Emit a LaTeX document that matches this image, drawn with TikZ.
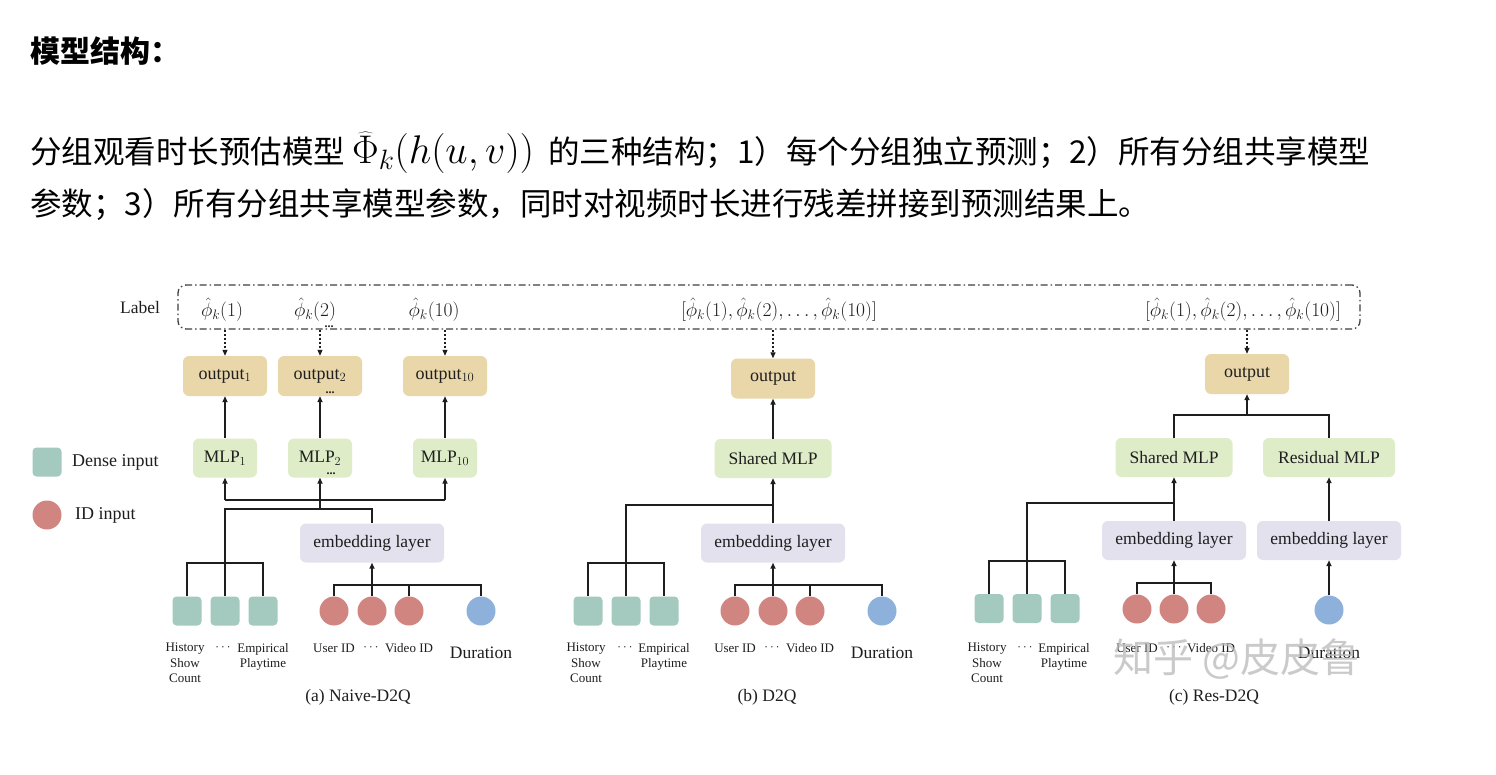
\RequirePackage{fix-cm}
\documentclass[tikz,border=0pt]{standalone}
\usepackage{fontspec}
\setmainfont{Liberation Serif}
\newfontfamily\cjk{Noto Sans CJK SC}
\usetikzlibrary{arrows.meta}
\definecolor{tanc}{RGB}{233,215,170}
\definecolor{grnc}{RGB}{222,236,200}
\definecolor{lavc}{RGB}{228,225,238}
\definecolor{tealc}{RGB}{164,202,192}
\definecolor{redc}{RGB}{209,133,128}
\definecolor{bluec}{RGB}{141,177,219}
\definecolor{ink}{RGB}{30,30,30}
\newcommand\myfs[1]{\fontsize{#1}{#1}\selectfont}
\begin{document}
\begin{tikzpicture}[x=1pt,y=-1pt,
  box/.style={rounded corners=6pt, inner sep=0pt, text=ink},
  outbox/.style={box, fill=tanc, minimum width=84pt, minimum height=40pt, font=\myfs{18}},
  mlpbox/.style={box, fill=grnc, minimum height=39pt, font=\myfs{17.5}},
  embbox/.style={box, fill=lavc, minimum width=144pt, minimum height=39pt, font=\myfs{17.5}},
  dense/.style={fill=tealc, rounded corners=4pt, minimum size=29pt, inner sep=0pt},
  idc/.style={circle, fill=redc, minimum size=29pt, inner sep=0pt},
  durc/.style={circle, fill=bluec, minimum size=29pt, inner sep=0pt},
  conn/.style={draw=ink, line width=1.5pt},
  arr/.style={conn, -{Triangle[length=6pt,width=5pt]}},
  darr/.style={draw=ink, line width=1.1pt, dash pattern=on 2.5pt off 1.5pt, -{Triangle[length=6pt,width=5pt]}},
  small/.style={font=\fontsize{13}{15.5}\selectfont, text=ink, inner sep=0pt, align=center},
  big/.style={font=\myfs{17.5}, text=ink, inner sep=0pt},
  phi/.style={font=\myfs{19.5}, text=ink, inner sep=0pt},
  dots/.style={font=\bfseries\myfs{12}, text=ink, inner sep=0pt}
]
\useasboundingbox (0,0) rectangle (1496,774);
\fill[white] (0,0) rectangle (1496,774);

% header text
\node[anchor=base west, inner sep=0pt, font=\cjk\bfseries\myfs{30}, text=black] (title) at (30,62) {模型结构：};
\node[anchor=base west, inner sep=0pt, font=\cjk\myfs{31.5}, text=black] (line2) at (30,163) {分组观看时长预估模型\hspace{7pt}{\myfs{40}$\widehat{\Phi}_k(h(u,v))$}\hspace{14pt}的三种结构；1）每个分组独立预测；2）所有分组共享模型};
\node[anchor=base west, inner sep=0pt, font=\cjk\myfs{31.5}, text=black] (line3) at (30,215) {参数；3）所有分组共享模型参数，同时对视频时长进行残差拼接到预测结果上。};

% label row
\node[big] (labtxt) at (140,308) {Label};
\node[draw=black!75, line width=1.3pt, dash pattern=on 7pt off 3pt on 1.5pt off 3pt, rounded corners=8pt, minimum width=1182pt, minimum height=44pt, inner sep=0pt] (lbl) at (769,307) {};
\node[phi] (p1) at (222,310) {$\hat{\phi}_k(1)$};
\node[phi] (p2) at (315,310) {$\hat{\phi}_k(2)$};
\node[phi] (p10) at (434,310) {$\hat{\phi}_k(10)$};
\node[phi] (pb) at (779,310) {$[\hat{\phi}_k(1),\hat{\phi}_k(2),\ldots,\hat{\phi}_k(10)]$};
\node[phi] (pc) at (1243,310) {$[\hat{\phi}_k(1),\hat{\phi}_k(2),\ldots,\hat{\phi}_k(10)]$};
\node[dots] (dt1) at (329,327) {...};

% legend
\node[dense] (lgd) at (47,462) {};
\node[font=\myfs{18}, text=ink, anchor=west, inner sep=0pt] (lgdt) at (72,462) {Dense input};
\node[idc] (lgi) at (47,515) {};
\node[font=\myfs{18}, text=ink, anchor=west, inner sep=0pt] (lgit) at (75,515) {ID input};

% ---------- panel a ----------
\node[outbox] (o1) at (225,376) {output$_1$};
\node[outbox] (o2) at (320,376) {output$_2$};
\node[outbox] (o10) at (445,376) {output$_{10}$};
\node[dots] (dt2) at (330,393) {...};
\node[mlpbox, minimum width=64pt] (m1) at (225,458) {MLP$_1$};
\node[mlpbox, minimum width=64pt] (m2) at (320,458) {MLP$_2$};
\node[mlpbox, minimum width=64pt] (m10) at (445,458) {MLP$_{10}$};
\node[dots] (dt3) at (331,474) {...};
\node[embbox] (ea) at (372,543) {embedding layer};
\node[dense] (da1) at (187,611) {};
\node[dense] (da2) at (225,611) {};
\node[dense] (da3) at (263,611) {};
\node[idc] (ia1) at (334,611) {};
\node[idc] (ia2) at (372,611) {};
\node[idc] (ia3) at (409,611) {};
\node[durc] (dua) at (481,611) {};
\coordinate (busa) at (0,500);
\coordinate (ja) at (320,509);
\coordinate (bda) at (0,563);
\coordinate (bia) at (0,585);
\foreach \n in {o1,o2,o10} \draw[darr] (lbl.south -| \n.north) -- (\n.north);
\foreach \m/\o in {m1/o1,m2/o2,m10/o10} \draw[arr] (\m.north) -- (\o.south);
\draw[conn] (m1.south |- busa) -- (m10.south |- busa);
\foreach \m in {m1,m2,m10} \draw[arr] (\m.south |- busa) -- (\m.south);
\draw[conn] (ja) -- (ja |- busa);
\draw[conn] (da2.north) -- (da2.north |- ja) -- (ea.north |- ja) -- (ea.north);
\draw[conn] (da1.north) -- (da1.north |- bda) -- (da3.north |- bda) -- (da3.north);
\draw[conn] (ia1.north) -- (ia1.north |- bia) -- (dua.north |- bia) -- (dua.north);
\draw[conn] (ia3.north) -- (ia3.north |- bia);
\draw[arr] (ia2.north) -- (ea.south);
\node[small, anchor=north] (ta1) at (185,643) {History\\Show\\Count};
\node[small] (ta2) at (223,648) {$\cdots$};
\node[small, anchor=north] (ta3) at (263,643) {Empirical\\Playtime};
\node[small, anchor=base] (ta4) at (334,652) {User ID};
\node[small] (ta5) at (371,648) {$\cdots$};
\node[small, anchor=base] (ta6) at (409,652) {Video ID};
\node[big, anchor=base] (ta7) at (481,658) {Duration};
\node[big] (capa) at (358,697) {(a) Naive-D2Q};

% ---------- panel b ----------
\node[outbox] (ob) at (773,378.5) {output};
\node[mlpbox, minimum width=117pt] (mb) at (773,458.5) {Shared MLP};
\node[embbox] (eb) at (773,543) {embedding layer};
\node[dense] (db1) at (588,611) {};
\node[dense] (db2) at (626,611) {};
\node[dense] (db3) at (664,611) {};
\node[idc] (ib1) at (735,611) {};
\node[idc] (ib2) at (773,611) {};
\node[idc] (ib3) at (810,611) {};
\node[durc] (dub) at (882,611) {};
\coordinate (jb) at (773,505);
\draw[darr] (lbl.south -| ob.north) -- (ob.north);
\draw[arr] (mb.north) -- (ob.south);
\draw[conn] (db2.north) -- (db2.north |- jb) -- (jb);
\draw[conn] (eb.north) -- (jb);
\draw[arr] (jb) -- (mb.south);
\draw[conn] (db1.north) -- (db1.north |- bda) -- (db3.north |- bda) -- (db3.north);
\draw[conn] (ib1.north) -- (ib1.north |- bia) -- (dub.north |- bia) -- (dub.north);
\draw[conn] (ib3.north) -- (ib3.north |- bia);
\draw[arr] (ib2.north) -- (eb.south);
\node[small, anchor=north] (tb1) at (586,643) {History\\Show\\Count};
\node[small] (tb2) at (625,648) {$\cdots$};
\node[small, anchor=north] (tb3) at (664,643) {Empirical\\Playtime};
\node[small, anchor=base] (tb4) at (735,652) {User ID};
\node[small] (tb5) at (772,648) {$\cdots$};
\node[small, anchor=base] (tb6) at (810,652) {Video ID};
\node[big, anchor=base] (tb7) at (882,658) {Duration};
\node[big] (capb) at (767,697) {(b) D2Q};

% ---------- panel c ----------
\node[outbox] (oc) at (1247,374) {output};
\node[mlpbox, minimum width=117pt] (msc) at (1174,457.5) {Shared MLP};
\node[mlpbox, minimum width=132pt] (mrc) at (1329,457.5) {Residual MLP};
\node[embbox] (ec1) at (1174,540.5) {embedding layer};
\node[embbox] (ec2) at (1329,540.5) {embedding layer};
\node[dense] (dc1) at (989,608.5) {};
\node[dense] (dc2) at (1027,608.5) {};
\node[dense] (dc3) at (1065,608.5) {};
\node[idc] (ic1) at (1137,609) {};
\node[idc] (ic2) at (1174,609) {};
\node[idc] (ic3) at (1211,609) {};
\node[durc] (duc) at (1329,610) {};
\coordinate (jc) at (1247,415);
\coordinate (jc2) at (1174,503);
\coordinate (bdc) at (0,561);
\coordinate (bic) at (0,583);
\draw[darr] (lbl.south -| oc.north) -- (oc.north);
\draw[conn] (msc.north) -- (msc.north |- jc) -- (mrc.north |- jc) -- (mrc.north);
\draw[arr] (jc) -- (oc.south);
\draw[conn] (dc2.north) -- (dc2.north |- jc2) -- (jc2);
\draw[conn] (ec1.north) -- (jc2);
\draw[arr] (jc2) -- (msc.south);
\draw[conn] (dc1.north) -- (dc1.north |- bdc) -- (dc3.north |- bdc) -- (dc3.north);
\draw[conn] (ic1.north) -- (ic1.north |- bic) -- (ic3.north |- bic) -- (ic3.north);
\draw[arr] (ic2.north) -- (ec1.south);
\draw[arr] (duc.north) -- (ec2.south);
\draw[arr] (ec2.north) -- (mrc.south);
\node[small, anchor=north] (tc1) at (987,643) {History\\Show\\Count};
\node[small] (tc2) at (1025,648) {$\cdots$};
\node[small, anchor=north] (tc3) at (1064,643) {Empirical\\Playtime};
\node[small, anchor=base] (tc4) at (1137,652) {User ID};
\node[small] (tc5) at (1174,648) {$\cdots$};
\node[small, anchor=base] (tc6) at (1211,652) {Video ID};
\node[big, anchor=base] (tc7) at (1329,658) {Duration};
\node[big] (capc) at (1214,697) {(c) Res-D2Q};

% watermark
\node[anchor=west, inner sep=0pt, font=\cjk\myfs{40}, text=gray!55, opacity=0.75] (wm) at (1113,659) {知乎 @皮皮鲁};
\end{tikzpicture}
\end{document}
